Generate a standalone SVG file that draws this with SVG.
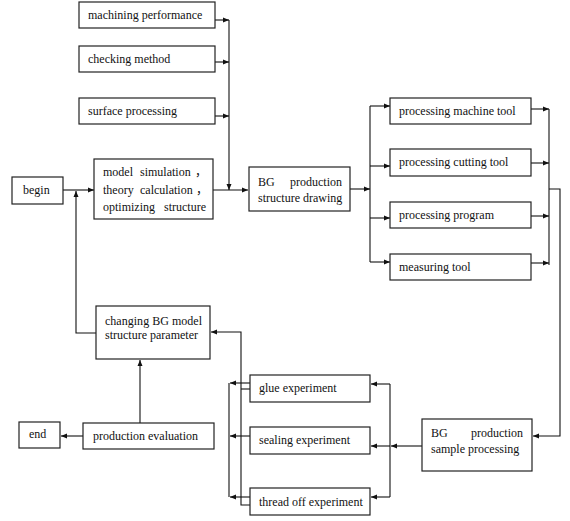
<svg xmlns="http://www.w3.org/2000/svg" width="570" height="521" viewBox="0 0 570 521">
<style>
.box{fill:#fff;stroke:#222;stroke-width:1.2}
.t{font-family:"Liberation Serif","Noto Sans CJK SC",serif;font-size:12px;fill:#111}
.c{fill:none;stroke:#111;stroke-width:1.1}
</style>
<defs>
<marker id="a" markerUnits="userSpaceOnUse" markerWidth="6" markerHeight="6" refX="6" refY="3" orient="auto">
<path d="M0,0.5 L6,3 L0,5.5 z" fill="#111"/>
</marker>
</defs>
<rect width="570" height="521" fill="#fff"/>
<g id="connectors">
<path class="c" d="M63,190 H94" marker-end="url(#a)"/>
<path class="c" d="M96,333 H76 V191" marker-end="url(#a)"/>
<path class="c" d="M213,190 H248" marker-end="url(#a)"/>
<path class="c" d="M215,20 H229" marker-end="url(#a)"/>
<path class="c" d="M215,62 H229" marker-end="url(#a)"/>
<path class="c" d="M215,116 H229" marker-end="url(#a)"/>
<path class="c" d="M229,20 V190" marker-end="url(#a)"/>
<path class="c" d="M350,189 H370" marker-end="url(#a)"/>
<path class="c" d="M370,106 V262"/>
<path class="c" d="M370,106 H390" marker-end="url(#a)"/>
<path class="c" d="M370,166 H390" marker-end="url(#a)"/>
<path class="c" d="M370,218 H390" marker-end="url(#a)"/>
<path class="c" d="M370,262 H390" marker-end="url(#a)"/>
<path class="c" d="M531,109 H549" marker-end="url(#a)"/>
<path class="c" d="M531,163 H549" marker-end="url(#a)"/>
<path class="c" d="M531,216 H549" marker-end="url(#a)"/>
<path class="c" d="M531,263 H549" marker-end="url(#a)"/>
<path class="c" d="M549,109 V265"/>
<path class="c" d="M549,189 H560 V436 H533" marker-end="url(#a)"/>
<path class="c" d="M422,446 H391" marker-end="url(#a)"/>
<path class="c" d="M390,384 V497"/>
<path class="c" d="M390,384 H371" marker-end="url(#a)"/>
<path class="c" d="M390,446 H371" marker-end="url(#a)"/>
<path class="c" d="M390,497 H371" marker-end="url(#a)"/>
<path class="c" d="M250,383 H230" marker-end="url(#a)"/>
<path class="c" d="M250,436 H230" marker-end="url(#a)"/>
<path class="c" d="M250,497 H230" marker-end="url(#a)"/>
<path class="c" d="M229,383 V497"/>
<path class="c" d="M250,389 H241"/>
<path class="c" d="M250,505 H241 V332 H211" marker-end="url(#a)"/>
<path class="c" d="M140,423 V360" marker-end="url(#a)"/>
<path class="c" d="M83,436 H61" marker-end="url(#a)"/>
</g>
<g id="machining-performance"><rect class="box" x="79" y="2" width="136" height="26"/><text class="t" x="88" y="19">machining performance</text></g>
<g id="checking-method"><rect class="box" x="79" y="46" width="136" height="26"/><text class="t" x="88" y="63">checking method</text></g>
<g id="surface-processing"><rect class="box" x="79" y="98" width="136" height="26"/><text class="t" x="88" y="115">surface processing</text></g>
<g id="begin"><rect class="box" x="12" y="177" width="51" height="27"/><text class="t" x="23" y="194">begin</text></g>
<g id="model-simulation"><rect class="box" x="94" y="159" width="119" height="60"/>
<text class="t" x="103" y="176">model</text><text class="t" x="140" y="176">simulation</text><text class="t" x="195" y="176">，</text>
<text class="t" x="103" y="194">theory</text><text class="t" x="140" y="194">calculation</text><text class="t" x="196" y="194">，</text>
<text class="t" x="103" y="211">optimizing</text><text class="t" x="206" y="211" text-anchor="end">structure</text></g>
<g id="bg-production-structure-drawing"><rect class="box" x="249" y="167" width="101" height="44"/>
<text class="t" x="258" y="186">BG</text><text class="t" x="342" y="186" text-anchor="end">production</text>
<text class="t" x="258" y="202">structure drawing</text></g>
<g id="processing-machine-tool"><rect class="box" x="390" y="98" width="141" height="26"/><text class="t" x="399" y="115">processing machine tool</text></g>
<g id="processing-cutting-tool"><rect class="box" x="390" y="149" width="141" height="27"/><text class="t" x="399" y="166">processing cutting tool</text></g>
<g id="processing-program"><rect class="box" x="390" y="202" width="141" height="26"/><text class="t" x="399" y="219">processing program</text></g>
<g id="measuring-tool"><rect class="box" x="390" y="254" width="141" height="26"/><text class="t" x="399" y="271">measuring tool</text></g>
<g id="bg-production-sample-processing"><rect class="box" x="422" y="419" width="110" height="52"/>
<text class="t" x="431" y="437">BG</text><text class="t" x="523" y="437" text-anchor="end">production</text>
<text class="t" x="431" y="453">sample processing</text></g>
<g id="glue-experiment"><rect class="box" x="250" y="375" width="120" height="27"/><text class="t" x="259" y="392">glue experiment</text></g>
<g id="sealing-experiment"><rect class="box" x="250" y="427" width="120" height="27"/><text class="t" x="259" y="444">sealing experiment</text></g>
<g id="thread-off-experiment"><rect class="box" x="250" y="488" width="120" height="27"/><text class="t" x="259" y="506">thread off experiment</text></g>
<g id="changing-bg-model"><rect class="box" x="96" y="306" width="114" height="53"/>
<text class="t" x="105" y="325" textLength="97" lengthAdjust="spacing">changing BG model</text>
<text class="t" x="105" y="339">structure parameter</text></g>
<g id="production-evaluation"><rect class="box" x="83" y="423" width="131" height="26"/><text class="t" x="93" y="440">production evaluation</text></g>
<g id="end"><rect class="box" x="19" y="422" width="41" height="26"/><text class="t" x="29" y="438">end</text></g>
</svg>
